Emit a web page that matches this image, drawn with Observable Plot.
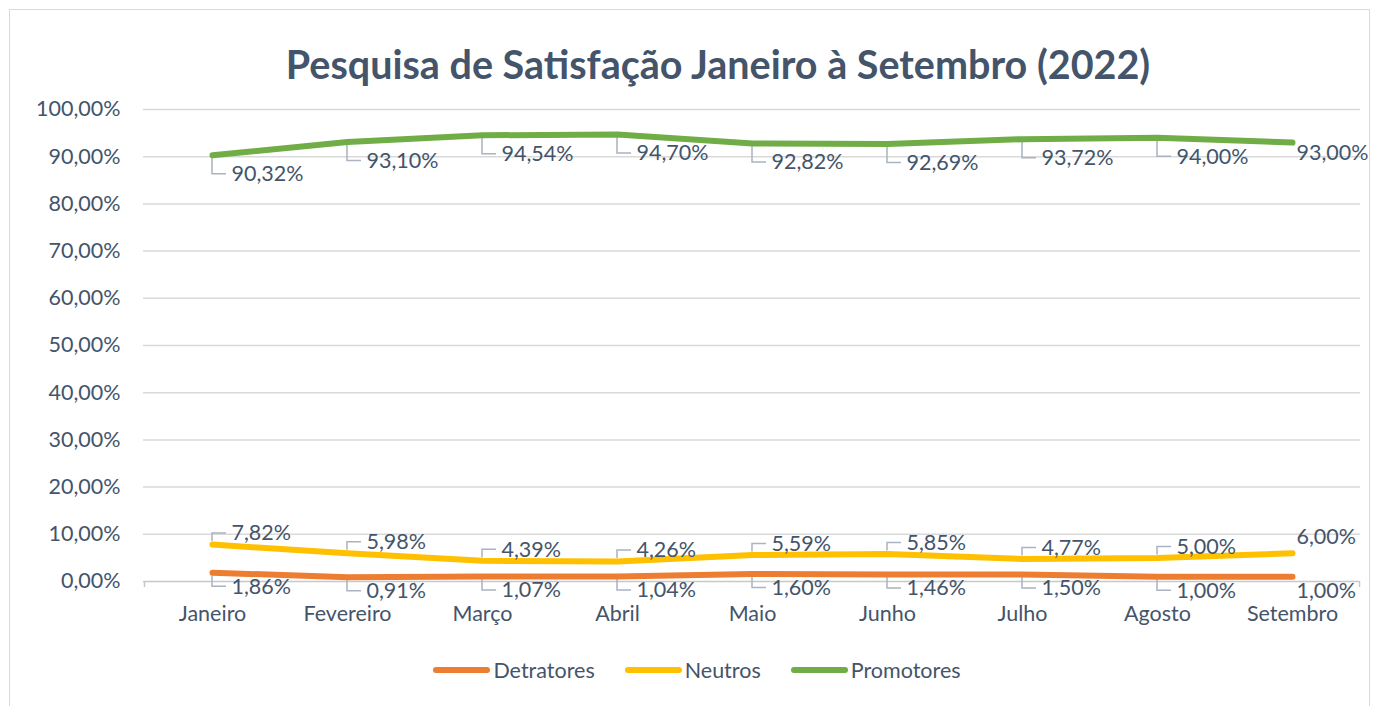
<!DOCTYPE html>
<html><head><meta charset="utf-8">
<script src="https://cdn.jsdelivr.net/npm/d3@7"></script>
<script src="https://cdn.jsdelivr.net/npm/@observablehq/plot@0.6"></script>
<style>
body{margin:0;background:#fff;font-family:Lato,"Noto Sans",sans-serif;}
#wrap{position:relative;width:1379px;height:706px;overflow:hidden;background:#fff;}
#frame{position:absolute;left:9px;top:9px;width:1361px;height:720px;border:1.5px solid #d9d9d9;box-sizing:border-box;}
#title{position:absolute;left:57px;width:1322px;top:40px;text-align:center;font-weight:bold;font-size:39.5px;color:#44546A;line-height:48px;}
#chart{position:absolute;left:0;top:95px;}
#legend{position:absolute;left:0;width:1379px;top:656px;display:flex;justify-content:center;padding-left:15px;box-sizing:border-box;font-size:21.5px;color:#44546A;line-height:28px;}
.item{display:flex;align-items:center;}
.sw{width:57px;height:6.5px;border-radius:3.5px;margin-right:3px;}
.item + .item{margin-left:30px;}
</style></head>
<body><div id="wrap"><div id="frame"></div>
<div id="title">Pesquisa de Satisfação Janeiro à Setembro (2022)</div>
<div id="chart"></div>
<div id="legend"></div>
</div>
<script>
const months = ["Janeiro","Fevereiro","Março","Abril","Maio","Junho","Julho","Agosto","Setembro"];
const detratores = [1.86,0.91,1.07,1.04,1.60,1.46,1.50,1.00,1.00];
const neutros = [7.82,5.98,4.39,4.26,5.59,5.85,4.77,5.00,6.00];
const promotores = [90.32,93.10,94.54,94.70,92.82,92.69,93.72,94.00,93.00];
const seriesNames = ["Detratores","Neutros","Promotores"];
const seriesColors = ["#ED7D31","#FFC000","#70AD47"];
const yTicks = [0,10,20,30,40,50,60,70,80,90,100];

const seriesValues = [detratores, neutros, promotores];
const fmt = v => v.toFixed(2).replace(".", ",") + "%";
const FS = 21.5;
// label side: Promotores & Detratores below, Neutros above
const labelDy = {Detratores: 14, Neutros: -11, Promotores: 19};
const rows = seriesNames.flatMap((s, k) => months.map((m, i) => ({series: s, month: m, value: seriesValues[k][i], i})));
const last = months.length - 1;

const leaderColor = "#A9B3C1";
function leaders(index, scales) {
  const g = d3.create("svg:g").attr("fill", "none").attr("stroke", leaderColor).attr("stroke-width", 1.5);
  for (const r of rows) {
    if (r.i === last) continue;
    const px = scales.x(r.month), py = scales.y(r.value);
    const dy = labelDy[r.series];
    const y0 = py + Math.sign(dy) * 3;
    const y1 = py + dy;
    g.append("path").attr("d", `M${px},${y0}V${y1}H${px + 14}`);
  }
  return g.node();
}
function axisTicks(index, scales) {
  const g = d3.create("svg:g").attr("stroke", "#c8c8c8").attr("stroke-width", 1.5);
  const step = scales.x(months[1]) - scales.x(months[0]);
  const y0 = scales.y(0);
  for (let i = 0; i <= months.length; i++) {
    const x = scales.x(months[0]) - step / 2 + i * step;
    g.append("line").attr("x1", x).attr("x2", x).attr("y1", y0).attr("y2", y0 + 6);
  }
  return g.node();
}

const labelMarks = seriesNames.flatMap(s => [
  Plot.text(rows, {filter: d => d.series === s && d.i < last, x: "month", y: "value", text: d => fmt(d.value),
    textAnchor: "start", dx: 19, dy: labelDy[s], fill: "#44546A", fontSize: FS}),
  Plot.text(rows, {filter: d => d.series === s && d.i === last, x: "month", y: "value", text: d => fmt(d.value),
    textAnchor: "start", dx: 4, dy: s === "Promotores" ? 11 : (s === "Neutros" ? -16 : 14), fill: "#44546A", fontSize: FS})
]);

const chart = Plot.plot({
  width: 1379,
  height: 546,
  marginLeft: 143,
  marginRight: 19,
  marginTop: 14,
  marginBottom: 60,
  style: {fontFamily: "Lato, 'Noto Sans', sans-serif", fontSize: FS + "px", color: "#44546A", background: "transparent", overflow: "visible"},
  x: {type: "point", domain: months, padding: 0.5, label: null},
  y: {domain: [0, 100], label: null},
  color: {domain: seriesNames, range: seriesColors},
  marks: [
    Plot.gridY(yTicks.filter(t => t > 0), {stroke: "#d9d9d9", strokeOpacity: 1, strokeWidth: 1.5}),
    Plot.axisY(yTicks, {tickSize: 0, tickPadding: 23, tickFormat: fmt, fontSize: FS, label: null}),
    Plot.axisX({tickSize: 0, tickPadding: 24, fontSize: FS, label: null}),
    Plot.ruleY([0], {stroke: "#c8c8c8", strokeWidth: 1.5}),
    axisTicks,
    leaders,
    Plot.line(rows, {x: "month", y: "value", z: "series", stroke: "series", strokeWidth: 6, strokeLinecap: "round", strokeLinejoin: "round"}),
    ...labelMarks
  ]
});
document.getElementById("chart").appendChild(chart);

const legend = d3.select("#legend");
seriesNames.forEach((s, k) => {
  const it = legend.append("div").attr("class", "item");
  it.append("div").attr("class", "sw").style("background", seriesColors[k]);
  it.append("span").text(s);
});
</script>
</body></html>
